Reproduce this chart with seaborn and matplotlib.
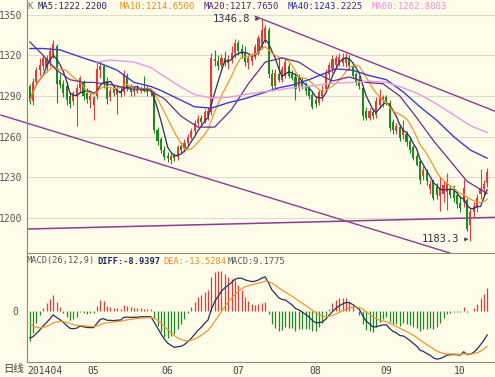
import numpy as np
import pandas as pd
import seaborn as sns
import matplotlib
matplotlib.use("Agg")
import matplotlib.pyplot as plt

sns.set_style("white")
plt.rcParams['font.family'] = ['DejaVu Sans Mono', 'Noto Sans CJK SC']

# daily bars, 2014-04 .. 2014-10
opens = [1297, 1286, 1300, 1309, 1312, 1311, 1315, 1320, 1327, 1302, 1299, 1297, 1290, 1286, 1290, 1296, 1300, 1292,
         1287, 1283, 1290, 1309, 1312, 1301, 1289, 1295, 1291, 1294, 1293, 1305, 1297, 1293, 1295, 1294, 1296, 1294,
         1293, 1293, 1265, 1258,
         1250, 1246, 1243, 1246, 1245, 1253, 1251, 1255, 1260, 1264, 1270, 1274, 1271, 1275, 1278, 1317, 1316, 1313,
         1318, 1314, 1317,
         1322, 1329, 1325, 1322, 1314, 1316, 1319, 1322, 1328, 1332, 1339, 1306, 1297, 1306, 1302, 1305, 1312, 1306,
         1304, 1296, 1302, 1297, 1296,
         1291, 1287, 1285, 1290, 1295, 1306, 1310, 1313, 1315, 1314, 1314, 1318, 1312, 1306, 1302, 1296, 1279, 1274,
         1278, 1276, 1283,
         1287, 1289, 1285, 1271, 1264, 1267, 1261, 1262, 1257, 1252, 1246, 1242, 1231, 1234, 1221, 1227, 1223, 1216,
         1218, 1219, 1221, 1220,
         1217, 1211, 1212, 1213, 1195, 1204, 1207, 1218, 1221, 1226]
highs = [1299, 1303, 1311, 1318, 1320, 1320, 1326, 1331, 1328, 1306, 1302, 1300, 1293, 1294, 1299, 1305, 1302, 1296,
         1292, 1290, 1315, 1316, 1313, 1304, 1296, 1298, 1298, 1297, 1309, 1307, 1299, 1297, 1298, 1297, 1305, 1297,
         1295, 1294, 1267, 1260,
         1253, 1249, 1248, 1248, 1254, 1256, 1258, 1262, 1266, 1272, 1276, 1276, 1280, 1282, 1322, 1324, 1320, 1321,
         1323, 1320, 1327,
         1332, 1331, 1328, 1327, 1320, 1322, 1328, 1335, 1346.8, 1342, 1341, 1310, 1310, 1318, 1312, 1317, 1314, 1309,
         1307, 1306, 1304, 1300, 1298,
         1293, 1290, 1295, 1298, 1310, 1315, 1320, 1320, 1322, 1322, 1322, 1320, 1314, 1308, 1305, 1297, 1282, 1281,
         1281, 1289, 1295,
         1291, 1291, 1287, 1273, 1270, 1269, 1272, 1264, 1259, 1254, 1248, 1243, 1238, 1236, 1228, 1229, 1226, 1230,
         1227, 1233, 1224, 1224,
         1220, 1216, 1229, 1215, 1207, 1212, 1218, 1236, 1228, 1237]
lows = [1284, 1283, 1298, 1305, 1309, 1308, 1312, 1318, 1285, 1296, 1289, 1283, 1281, 1283, 1268, 1292, 1287, 1285,
        1281, 1272, 1288, 1303, 1296, 1284, 1286, 1290, 1277, 1289, 1291, 1294, 1290, 1290, 1292, 1292, 1293, 1290,
        1290, 1263, 1254, 1248,
        1243, 1241, 1240, 1242, 1243, 1248, 1249, 1253, 1258, 1262, 1268, 1269, 1270, 1272, 1276, 1312, 1309, 1311,
        1312, 1310, 1314,
        1318, 1320, 1318, 1312, 1310, 1313, 1317, 1320, 1325, 1329, 1303, 1294, 1295, 1300, 1300, 1303, 1303, 1302,
        1287, 1294, 1295, 1291, 1288,
        1280, 1282, 1283, 1286, 1293, 1303, 1307, 1310, 1312, 1312, 1311, 1309, 1303, 1298, 1295, 1272, 1272, 1272,
        1273, 1274, 1281,
        1282, 1283, 1264, 1262, 1262, 1257, 1258, 1253, 1248, 1243, 1238, 1225, 1228, 1224, 1218, 1213, 1214, 1205,
        1212, 1206, 1215, 1212,
        1207, 1204, 1208, 1190, 1183.3, 1201, 1204, 1214, 1216, 1223]
closes = [1286, 1300, 1309, 1313, 1318, 1318, 1323, 1328, 1299, 1298, 1292, 1287, 1284, 1292, 1296, 1303, 1290, 1288,
          1290, 1289, 1310, 1312, 1300, 1288, 1294, 1292, 1295, 1293, 1306, 1296, 1293, 1295, 1294, 1296, 1294, 1293,
          1294, 1265, 1257, 1250,
          1245, 1244, 1246, 1244, 1252, 1250, 1255, 1260, 1264, 1270, 1273, 1271, 1278, 1279, 1318, 1316, 1312, 1318,
          1315, 1317, 1322,
          1329, 1323, 1321, 1315, 1318, 1320, 1326, 1333, 1339, 1340, 1306, 1297, 1307, 1302, 1310, 1315, 1305, 1303,
          1295, 1303, 1297, 1294, 1290,
          1282, 1284, 1293, 1294, 1307, 1313, 1317, 1318, 1319, 1318, 1319, 1312, 1305, 1300, 1297, 1275, 1274, 1279,
          1275, 1286, 1290,
          1289, 1286, 1266, 1265, 1268, 1259, 1266, 1256, 1250, 1244, 1239, 1228, 1235, 1227, 1225, 1215, 1217, 1222,
          1224, 1226, 1217, 1215,
          1210, 1207, 1222, 1192, 1204, 1209, 1215, 1222, 1225, 1234]

# longer moving averages at sample bars
ma20_idx = [0, 4, 8, 12, 16, 19, 25, 30, 35, 40, 45, 50, 55, 60, 65, 70, 75, 80, 85, 90, 95, 100, 105, 110, 115,
            120, 125, 130, 136]
ma20_val = [1330, 1320, 1309, 1302, 1300, 1300, 1298, 1295, 1295, 1288, 1275, 1267, 1267, 1280, 1299, 1315, 1318,
            1315, 1307, 1301, 1304, 1300, 1299, 1290, 1274, 1257, 1242, 1227, 1218]
ma40_idx = [0, 4, 9, 16, 21, 26, 31, 36, 39, 44, 49, 54, 59, 64, 69, 74, 78, 83, 88, 91, 96, 101, 106, 111, 116,
            121, 126, 131, 136]
ma40_val = [1325, 1325, 1324, 1318, 1314, 1309, 1300, 1297, 1294, 1288, 1282, 1281, 1285, 1288, 1292, 1296, 1298,
            1302, 1307, 1310, 1309, 1305, 1302, 1293, 1282, 1272, 1260, 1250, 1244]
ma60_idx = [20, 24, 31, 36, 39, 44, 49, 54, 59, 64, 69, 74, 78, 83, 88, 96, 101, 106, 111, 116, 121, 126, 131, 136]
ma60_val = [1315, 1316.5, 1315, 1311, 1306, 1298, 1291, 1288.5, 1289, 1291, 1293, 1294.5, 1296, 1297, 1299, 1300,
            1301, 1300, 1296, 1291, 1284, 1276, 1268, 1263]

# state of the MACD averages before the first bar
ema12_seed, ema26_seed, dea_seed = 1306.0, 1316.0, -3.3

month_idx = [0, 18, 40, 61, 84, 105, 127]
month_lbl = ['201404', '05', '06', '07', '08', '09', '10']

# trend lines (bar index, price)
chan_hi = ([67, 138.3], [1348.8, 1278.7])
chan_lo = ([-8.6, 124.9], [1275.9, 1174.1])
flat_ln = ([-0.6, 138.3], [1191.8, 1200.4])

BG = '#fffde9'
UP, DN = '#e8393a', '#1f8a23'
W, H = 495, 377

df = pd.DataFrame({'o': opens, 'h': highs, 'l': lows, 'c': closes})
df['i'] = np.arange(len(df))
df['ma5'] = df['c'].rolling(5, min_periods=1).mean()
df['ma10'] = df['c'].rolling(10, min_periods=1).mean()


def ema(seed, s, span):
    full = pd.concat([pd.Series([seed]), s], ignore_index=True)
    return full.ewm(span=span, adjust=False).mean().iloc[1:].reset_index(drop=True)


diff = ema(ema12_seed, df['c'], 12) - ema(ema26_seed, df['c'], 26)
dea = ema(dea_seed, diff, 9)
hist = 2 * (diff - dea)

fig = plt.figure(figsize=(W / 100, H / 100), dpi=100, facecolor=BG)
ax = fig.add_axes([27 / W, 1 - 253 / H, 1 - 27 / W, 253 / H], facecolor=BG)
axm = fig.add_axes([27 / W, 1 - 362 / H, 1 - 27 / W, (362 - 253) / H], facecolor=BG, sharex=ax)

# price panel
ax.set_ylim(1174.1, 1360.8)
ax.set_xlim(-0.6, 138.3)
ax.set_yticks([1200, 1230, 1260, 1290, 1320, 1350])
ax.yaxis.grid(True, color='#dcdcd2', lw=0.8)
ax.set_axisbelow(True)
for s in ['top', 'right', 'bottom']:
    ax.spines[s].set_visible(False)
ax.spines['left'].set_color('#8a8a80')
ax.tick_params(axis='y', length=0, labelsize=7, labelcolor='#555555', pad=3)
ax.tick_params(axis='x', length=0, labelbottom=False)

ax.plot(*chan_hi, color='#8e3c8e', lw=1.0, zorder=1)
ax.plot(*flat_ln, color='#8e3c8e', lw=1.1, zorder=1)
ax.plot(*chan_lo, color='#8e3c8e', lw=1.0, zorder=1, clip_on=False)

up = df['c'] >= df['o']
cols = np.where(up, UP, DN)
ax.vlines(df['i'], df['l'], df['h'], colors=cols, lw=0.8, zorder=3)
body = np.maximum((df['c'] - df['o']).abs(), 0.5)
ax.bar(df['i'], body, bottom=np.minimum(df['o'], df['c']), width=0.62, color=cols, lw=0, zorder=3)

sns.lineplot(x=df['i'], y=df['ma5'], ax=ax, color='#26305a', lw=0.9, zorder=4)
sns.lineplot(x=df['i'], y=df['ma10'], ax=ax, color='#f0962e', lw=0.9, zorder=4)
sns.lineplot(x=ma20_idx, y=ma20_val, ax=ax, color='#6a2c8a', lw=0.9, zorder=4)
sns.lineplot(x=ma40_idx, y=ma40_val, ax=ax, color='#3a3ad0', lw=1.0, zorder=4)
sns.lineplot(x=ma60_idx, y=ma60_val, ax=ax, color='#ec98e6', lw=1.0, zorder=4)
ax.set_xlabel('')
ax.set_ylabel('')

arr = dict(arrowstyle='-|>', color='#404050', lw=0.6, mutation_scale=5, shrinkA=1, shrinkB=0)
ax.annotate('1346.8', xy=(68.3, 1346.8), xytext=(65.6, 1346.8), ha='right', va='center',
            fontsize=7.5, color='#303048', arrowprops=arr)
ax.annotate('1183.3', xy=(130.4, 1184.2), xytext=(127.8, 1184.2), ha='right', va='center',
            fontsize=7.5, color='#303048', arrowprops=arr, annotation_clip=False)

# MACD panel
axm.set_ylim(-20.4, 23.2)
axm.vlines(df['i'], 0, hist, colors=np.where(hist >= 0, UP, DN), lw=0.9)
sns.lineplot(x=df['i'], y=diff, ax=axm, color='#22305e', lw=0.9)
sns.lineplot(x=df['i'], y=dea, ax=axm, color='#f0962e', lw=0.9)
axm.set_xlabel('')
axm.set_ylabel('')
axm.set_yticks([0])
axm.tick_params(axis='y', length=0, labelsize=7, labelcolor='#555555', pad=6)
axm.set_xticks(np.array(month_idx) - 0.8)
axm.set_xticklabels(month_lbl, ha='left')
axm.tick_params(axis='x', length=0, labelsize=7, labelcolor='#444444', pad=3)
axm.spines['right'].set_visible(False)
for s in ['top', 'left', 'bottom']:
    axm.spines[s].set_color('#8a8a80')


# headers
def ftext(x, y, s, c, size=6.5, **kw):
    fig.text(x / W, 1 - y / H, s, color=c, fontsize=size, va='center', ha='left', **kw)


ftext(27, 6.5, 'K', '#777777')
ftext(38, 6.5, 'MA5:1222.2200', '#1e2560')
ftext(120, 6.5, 'MA10:1214.6500', '#f08a1e')
ftext(204, 6.5, 'MA20:1217.7650', '#5a1e7a')
ftext(288, 6.5, 'MA40:1243.2225', '#2a2ab0')
ftext(372, 6.5, 'MA60:1262.8883', '#ee8ee0')
ftext(27, 261, 'MACD(26,12,9)', '#555555', size=6.2)
ftext(97, 261, 'DIFF:-8.9397', '#1e2a5a', size=6.2, fontweight='bold')
ftext(163, 261, 'DEA:-13.5284', '#f08a1e', size=6.2)
ftext(228, 261, 'MACD:9.1775', '#555555', size=6.2)
fig.text(3 / W, 1 - 369 / H, '日线', color='#444444', fontsize=7.5, va='center', ha='left',
         family=['Noto Sans CJK SC'])

fig.savefig('out.png', dpi=100, facecolor=BG)
